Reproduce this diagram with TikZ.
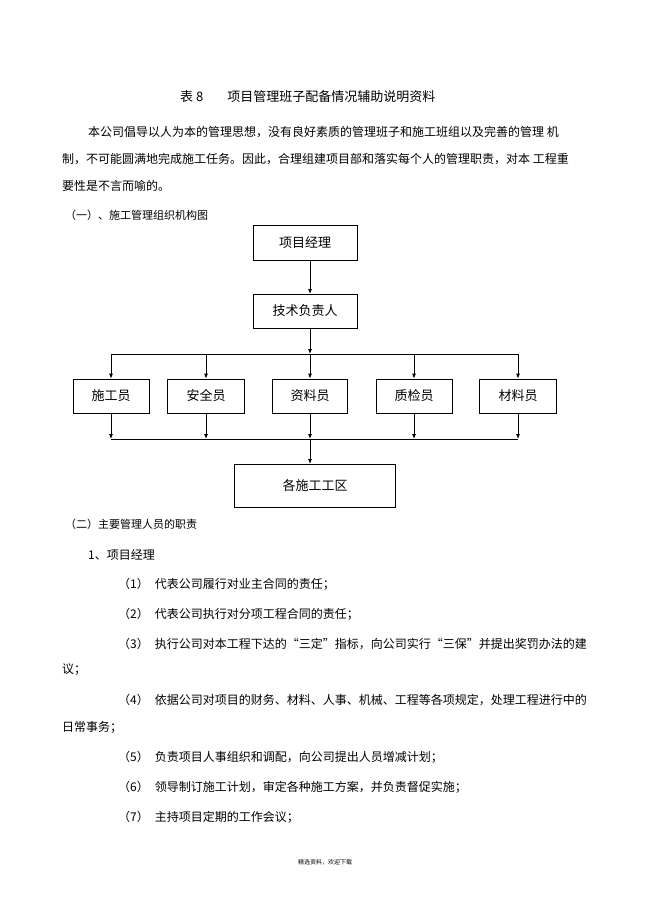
\documentclass[tikz,border=0pt]{standalone}
\usepackage{fontspec}
\setmainfont{Noto Sans CJK SC}
\usetikzlibrary{arrows.meta}
\tikzset{
  BoxStyle/.style = {rectangle, draw, thick, font = \fontsize{13}{13}\selectfont},
  TextStyle/.style = {anchor = west, inner sep = 0pt, font = \fontsize{12}{12}\selectfont},
  ArrowStyle/.style = {thick, -{Latex[length=5pt,width=4pt]}}}
\begin{document}
\begin{tikzpicture}[x=1pt,y=-1pt]
  \useasboundingbox (0,0) rectangle (649,920);
  % heading and text
  \node[TextStyle, font=\fontsize{13}{13}\selectfont] (title) at (180,97) {表 8\hspace{24pt}项目管理班子配备情况辅助说明资料};
  \node[TextStyle] (p1) at (88,132) {本公司倡导以人为本的管理思想，没有良好素质的管理班子和施工班组以及完善的管理 机};
  \node[TextStyle] (p2) at (62,159) {制，不可能圆满地完成施工任务。因此，合理组建项目部和落实每个人的管理职责，对本 工程重};
  \node[TextStyle] (p3) at (62,186) {要性是不言而喻的。};
  \node[TextStyle, font=\fontsize{11}{11}\selectfont] (s1) at (65,215) {（一）、施工管理组织机构图};
  % chart
  \node[BoxStyle, minimum width=104pt, minimum height=35pt] (pm) at (305,243) {项目经理};
  \node[BoxStyle, minimum width=104pt, minimum height=34pt] (tech) at (305,311) {技术负责人};
  \node[BoxStyle, minimum width=76pt, minimum height=34pt] (w1) at (111,396) {施工员};
  \node[BoxStyle, minimum width=77pt, minimum height=34pt] (w2) at (206,396) {安全员};
  \node[BoxStyle, minimum width=75pt, minimum height=34pt] (w3) at (310,396) {资料员};
  \node[BoxStyle, minimum width=76pt, minimum height=34pt] (w4) at (414,396) {质检员};
  \node[BoxStyle, minimum width=77pt, minimum height=34pt] (w5) at (518,396) {材料员};
  \node[BoxStyle, minimum width=161pt, minimum height=43pt] (area) at (315,486) {各施工工区};
  \coordinate (top) at (310,354);
  \coordinate (bot) at (310,439);
  \draw[ArrowStyle] (310,260) -- (310,294);
  \draw[ArrowStyle] (310,328) -- (top);
  \draw[thick] (111,354) -- (518,354);
  \draw[thick] (111,439) -- (518,439);
  \foreach \w/\x in {w1/111,w2/206,w3/310,w4/414,w5/518}{
    \draw[ArrowStyle] (\x,354) -- (\w.north -| \x,0);
    \draw[ArrowStyle] (\w.south -| \x,0) -- (\x,439);
  }
  \draw[ArrowStyle] (bot) -- (310,464);
  % duties
  \node[TextStyle, font=\fontsize{11}{11}\selectfont] (s2) at (65,524) {（二）主要管理人员的职责};
  \node[TextStyle] (d0) at (88,555) {1、项目经理};
  \node[TextStyle] (d1) at (118,584) {（1）\hspace{6pt}代表公司履行对业主合同的责任；};
  \node[TextStyle] (d2) at (118,614) {（2）\hspace{6pt}代表公司执行对分项工程合同的责任；};
  \node[TextStyle] (d3) at (118,644) {（3）\hspace{6pt}执行公司对本工程下达的“三定”指标，向公司实行“三保”并提出奖罚办法的建};
  \node[TextStyle] (d3b) at (62,670) {议；};
  \node[TextStyle] (d4) at (118,700) {（4）\hspace{6pt}依据公司对项目的财务、材料、人事、机械、工程等各项规定，处理工程进行中的};
  \node[TextStyle] (d4b) at (62,727) {日常事务；};
  \node[TextStyle] (d5) at (118,757) {（5）\hspace{6pt}负责项目人事组织和调配，向公司提出人员增减计划；};
  \node[TextStyle] (d6) at (118,787) {（6）\hspace{6pt}领导制订施工计划，审定各种施工方案，并负责督促实施；};
  \node[TextStyle] (d7) at (118,817) {（7）\hspace{6pt}主持项目定期的工作会议；};
  \node[font=\fontsize{6}{6}\selectfont] (foot) at (325,862) {精选资料，欢迎下载};
\end{tikzpicture}
\end{document}
